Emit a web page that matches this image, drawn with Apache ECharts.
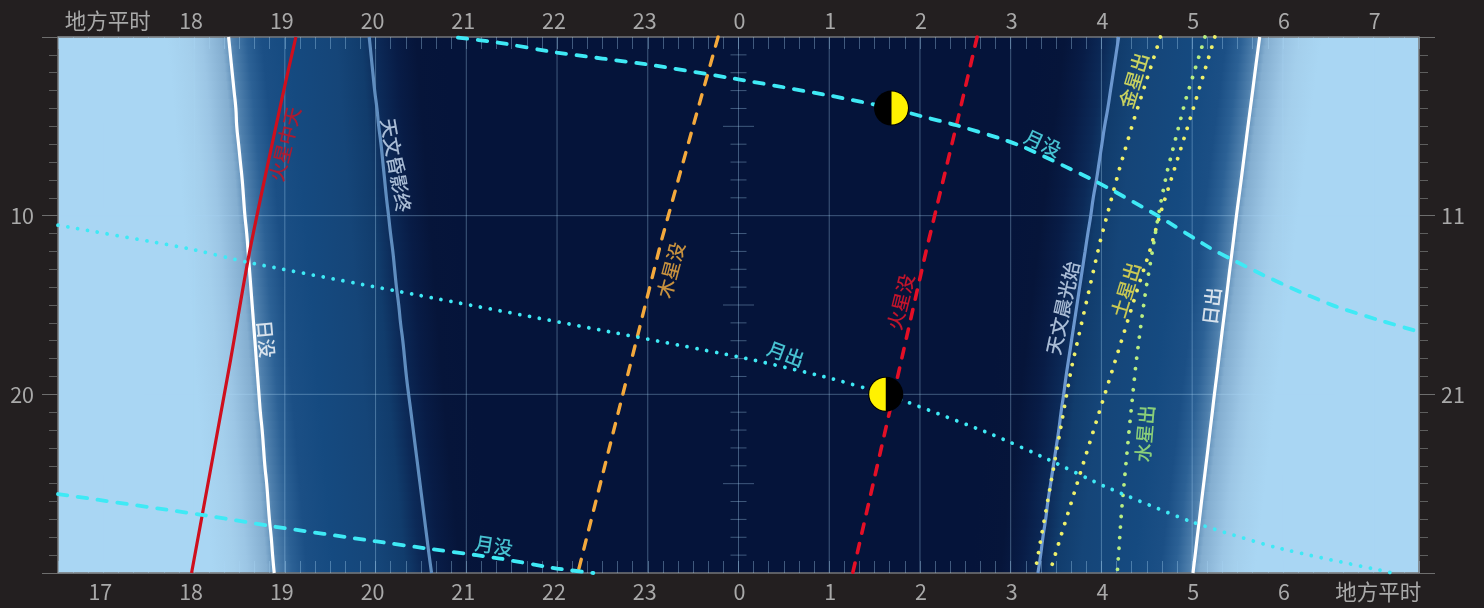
<!DOCTYPE html>
<html><head><meta charset="utf-8">
<style>html,body{margin:0;padding:0;background:#231f20}#c{width:1484px;height:608px}</style>
<script src="https://cdn.jsdelivr.net/npm/echarts@6/dist/echarts.min.js"></script>
</head><body><div id="c"></div>
<script>
const dayIndex=[0,1,2,3,4,5,6,7,8,9,10,11,12,13,14,15,16,17,18,19,20,21,22,23,24,25,26,27,28,29,30];
const sunset=[-5.62,-5.60,-5.58,-5.56,-5.54,-5.53,-5.51,-5.49,-5.47,-5.455,-5.44,-5.42,-5.405,-5.39,-5.375,-5.36,-5.345,-5.33,-5.315,-5.30,-5.285,-5.27,-5.25,-5.235,-5.22,-5.20,-5.185,-5.17,-5.15,-5.135,-5.117];
const sunrise=[5.744,5.718,5.692,5.667,5.641,5.615,5.59,5.565,5.54,5.514,5.488,5.464,5.44,5.415,5.391,5.367,5.342,5.318,5.294,5.27,5.245,5.222,5.198,5.175,5.151,5.127,5.103,5.08,5.056,5.033,5.009];
const duskEnd=[-4.07,-4.05,-4.03,-4.01,-3.985,-3.965,-3.94,-3.92,-3.90,-3.88,-3.857,-3.835,-3.81,-3.79,-3.77,-3.745,-3.725,-3.70,-3.68,-3.66,-3.636,-3.61,-3.585,-3.56,-3.535,-3.51,-3.485,-3.46,-3.435,-3.41,-3.383];
const dawnStart=[4.19,4.16,4.13,4.10,4.07,4.035,4.005,3.975,3.945,3.91,3.882,3.85,3.82,3.79,3.76,3.73,3.70,3.67,3.64,3.61,3.584,3.555,3.53,3.50,3.47,3.44,3.41,3.385,3.355,3.33,3.30];

const marsTransitH=[-4.878,-5.036,-5.385,-5.598,-6.028];
const marsTransitD=[0,3.55,11.93,18.07,30];
const jupiterSetH=[-0.225,-0.482,-0.848,-1.198,-1.771];
const jupiterSetD=[0,4.66,11.37,18.45,30];
const marsSetH=[2.63,2.402,2.07,1.796,1.259];
const marsSetD=[0,4.94,11.93,18.07,30];
const venusRiseH=[4.65,4.356,4.191,3.981,3.665,3.273,3.27];
const venusRiseD=[0,4.66,7.51,11.54,18.63,29.8,30];
const saturnRiseH=[5.25,4.973,4.76,4.65,4.525,4.414,4.275,4.136,3.786,3.438,3.42];
const saturnRiseD=[0,4.66,8.11,9.86,12.11,13.84,16.12,18.39,24.1,29.84,30];
const mercuryRiseH=[5.141,4.926,4.723,4.65,4.613,4.551,4.491,4.441,4.381,4.309,4.264,4.22,4.18,4.174];
const mercuryRiseD=[0,3.55,7.55,9.36,10.42,12.3,14.09,15.88,18.26,21.8,24.22,26.62,29.62,30];
const moonSetAH=[-3.093,-2.652,-2.002,-0.999,0,0.995,1.686,2.006,2.402,2.879,3.144,3.948,4.609,5.201,5.414,5.781,6.185,6.589,7.03,7.5];
const moonSetAD=[0.03,0.31,0.87,1.54,2.37,3.27,3.98,4.42,4.94,5.67,6.16,8.11,9.97,11.82,12.39,13.32,14.26,15.09,15.8,16.5];
const moonSetBH=[-7.5,-5.936,-5.132,-4.008,-3.402,-2.887,-2.63,-1.999,-1.6];
const moonSetBD=[25.58,26.73,27.39,28.22,28.65,29.0,29.19,29.75,30];
const moonRiseH=[-7.5,-6.083,-5.418,-3.765,0,0.995,1.623,1.844,2.802,3.419,4.036,4.981,5.932,7.185,7.22];
const moonRiseD=[10.53,11.82,12.6,14.22,17.9,19.08,19.99,20.4,22.26,23.66,25.15,27.11,28.58,29.97,30];

const moonIconH=[1.686,1.623];
const moonIconD=[3.98,19.99];
const moonLitSide=['right','left'];

const labelTexts=['火星中天','天文昏影终','日没','木星没','火星没','月出','月没','月没','天文晨光始','金星出','土星出','水星出','日出'];
const labelH=[-5.0,-3.776,-5.209,-0.746,1.788,0.521,3.353,-2.696,3.574,4.356,4.268,4.477,5.215];
const labelD=[6.0,7.18,16.9,13.04,14.83,17.74,5.95,28.46,15.17,2.43,14.16,22.2,15.06];
const labelAngles=[76,-80,-85,75,76,-20,-25,-9,78,73,73,85,83];

const hourLines=[-7,-6,-5,-4,-3,-2,-1,0,1,2,3,4,5,6,7];
const dayLines=[10,20];
const centerTicksShort=[1,2,3,4,6,7,8,9,11,12,13,14,16,17,18,19,21,22,23,24,26,27,28,29];
const centerTicksLong=[5,15,25];

const FONT='"Noto Sans CJK SC","Noto Sans",sans-serif';
const C={cyan:'#3fe9f5',orange:'#f4a93c',red:'#e40f26',transit:'#cf0f1d',white:'#ffffff',dusk:'#5f8dbf',dawn:'#6b97cf',yellow:'#eef06a',merc:'#b9ee82'};
const labelColors=[C.transit,'#d2e4f8','#ffffff','#f8b040','#f01428','#58eef8','#58eef8','#58eef8','#d2e4f8','#f6f65a','#f6e84a','#a8f078','#ffffff'];
const GRID='rgba(169,214,243,0.36)';
const zip=(a,b)=>a.map((v,i)=>[v,b[i]]);
const PX=90.75;
function bgStops(S,D,W,R,d){
  const Dd=D-(18*d/30)/PX, Wd=W+(-7+16*d/30)/PX;
  const p=[
    [S-62/PX,'#a9d6f3'],[S-40/PX,'#a4cfec'],[S-27/PX,'#9cc6e5'],[S-7/PX,'#84aed0'],[S+4/PX,'#4f80ad'],[S+18/PX,'#2c6195'],[S+33/PX,'#1b4f85'],[S+60/PX,'#154a80'],
    [Dd-33/PX,'#154578'],[Dd-8/PX,'#113c6c'],[Dd+7/PX,'#0c2a58'],[Dd+27/PX,'#081c46'],[Dd+47/PX,'#06153a'],[Dd+77/PX,'#05143a'],
    [Wd-77/PX,'#05143a'],[Wd-47/PX,'#06153a'],[Wd-27/PX,'#081c46'],[Wd-7/PX,'#0c2a58'],[Wd+8/PX,'#113c6c'],[Wd+33/PX,'#154578'],
    [R-60/PX,'#154a80'],[R-33/PX,'#1b4f85'],[R-18/PX,'#2c6195'],[R-4/PX,'#4f80ad'],[R+7/PX,'#84aed0'],[R+27/PX,'#9cc6e5'],[R+40/PX,'#a4cfec'],[R+62/PX,'#a9d6f3']];
  return p.map(s=>({offset:(s[0]+7.5)/15,color:s[1]}));
}
const chart=echarts.init(document.getElementById('c'),null,{renderer:'canvas'});
const lineS=(name,data,color,w,type,extra)=>Object.assign({name,type:'line',data,symbol:'none',silent:true,z:5,animation:false,
  lineStyle:{color,width:w,type,cap:type==='solid'?'butt':'round'}},extra||{});
const DOTP=[0.01,10.6],DOTM=[0.01,10],DASH=[9.5,10.5];
function xFmt(title){return function(v){
  if(!Number.isInteger(v))return '';
  if(v===title)return '{t|地方平时}';
  const h=(v+24)%24;
  return h>=10?'{w|'+h+'}':'{s|'+h+'}';
};}
const AX=21.5;
const rich={
  w:{fontSize:AX,fontFamily:FONT,color:'#a9a9a9',padding:[0,6,0,0]},
  s:{fontSize:AX,fontFamily:FONT,color:'#a9a9a9',padding:[0,0,0,2]},
  t:{fontSize:AX,fontFamily:FONT,color:'#a9a9a9',padding:[0,0,0,9]}
};
const tickW={show:true,inside:true,length:12,lineStyle:{color:GRID,width:1}};
const xBase=(pos,title,margin)=>({type:'value',position:pos,min:-7.5,max:7.5,interval:0.5,z:3,
  axisLine:{show:true,onZero:false,lineStyle:{color:'#777',width:1.5}},
  axisTick:tickW,minorTick:{show:true,splitNumber:3,length:12,lineStyle:{color:GRID,width:1}},
  splitLine:{show:false},minorSplitLine:{show:false},
  axisLabel:{formatter:xFmt(title),rich,margin,hideOverlap:false}});
const yBase=(pos,fmt,margin)=>({type:'value',position:pos,inverse:true,min:0,max:30,interval:10,z:3,
  axisLine:{show:true,onZero:false,lineStyle:{color:'#777',width:1.5}},
  axisTick:{show:true,length:16,lineStyle:{color:'#6e6e6e',width:1}},
  minorTick:{show:true,splitNumber:10,length:9,lineStyle:{color:'#5e5e5e',width:1}},
  splitLine:{show:false},minorSplitLine:{show:false},
  axisLabel:{formatter:fmt,margin,fontSize:AX,fontFamily:FONT,color:'#a9a9a9',padding:[0,0,2,0]}});
const halfRows=[];
dayIndex.slice(0,30).forEach(d=>{halfRows.push([d]);halfRows.push([d+0.5]);});
const at=(arr,d)=>{const i=Math.floor(d),f=d-i;return i>=30?arr[30]:arr[i]*(1-f)+arr[i+1]*f;};
const LABEL_W=500;
const option={
  backgroundColor:'#231f20',animation:false,
  grid:{left:58,right:65,top:37,bottom:35,containLabel:false},
  xAxis:[xBase('bottom',7,8),xBase('top',-7,5)],
  yAxis:[yBase('left',v=>(v===10||v===20)?String(v):'',24),yBase('right',v=>(v===10||v===20)?String(v+1):'',22)],
  series:[
    {type:'custom',z:1,silent:true,animation:false,data:halfRows,
     renderItem(p,api){
       const d=api.value(0),m=d+0.25;
       const a=api.coord([-7.5,d]),b=api.coord([7.5,d+0.5]);
       return {type:'rect',shape:{x:a[0],y:a[1]-0.5,width:b[0]-a[0],height:b[1]-a[1]+1},
         style:{fill:{type:'linear',x:0,y:0,x2:1,y2:0,global:false,colorStops:bgStops(at(sunset,m),at(duskEnd,m),at(dawnStart,m),at(sunrise,m),m)}}};
     }},
    {type:'custom',z:2,silent:true,animation:false,data:hourLines.map(h=>[h]),
     renderItem(p,api){const t=api.coord([api.value(0),0]),b=api.coord([api.value(0),30]);
       return {type:'line',shape:{x1:t[0],y1:t[1],x2:b[0],y2:b[1]},style:{stroke:GRID,lineWidth:1}};}},
    {type:'custom',z:2,silent:true,animation:false,data:dayLines.map(d=>[d]),
     renderItem(p,api){const t=api.coord([-7.5,api.value(0)]),b=api.coord([7.5,api.value(0)]);
       return {type:'line',shape:{x1:t[0],y1:t[1],x2:b[0],y2:b[1]},style:{stroke:GRID,lineWidth:1}};}},
    {type:'custom',z:2,silent:true,animation:false,data:centerTicksShort.map(d=>[d,8]).concat(centerTicksLong.map(d=>[d,15.5])),
     renderItem(p,api){const c=api.coord([0,api.value(0)]),l=api.value(1);
       return {type:'line',shape:{x1:c[0]-l,y1:c[1],x2:c[0]+l,y2:c[1]},style:{stroke:GRID,lineWidth:1}};}},
    lineS('日没',zip(sunset,dayIndex),C.white,3.2,'solid',{smooth:0.6}),
    lineS('日出',zip(sunrise,dayIndex),C.white,3.2,'solid',{smooth:0.6}),
    lineS('天文昏影终',zip(duskEnd,dayIndex),C.dusk,3.2,'solid',{smooth:0.6}),
    lineS('天文晨光始',zip(dawnStart,dayIndex),C.dawn,3.2,'solid',{smooth:0.6}),
    lineS('火星中天',zip(marsTransitH,marsTransitD),C.transit,3.2,'solid',{smooth:0.3}),
    lineS('木星没',zip(jupiterSetH,jupiterSetD),C.orange,3.4,DASH),
    lineS('火星没',zip(marsSetH,marsSetD),C.red,3.6,DASH),
    lineS('金星出',zip(venusRiseH,venusRiseD),C.yellow,3.8,DOTP),
    lineS('土星出',zip(saturnRiseH,saturnRiseD),C.yellow,3.8,DOTP),
    lineS('水星出',zip(mercuryRiseH,mercuryRiseD),C.merc,3.8,DOTP),
    lineS('月没',zip(moonSetAH,moonSetAD),C.cyan,3.8,DASH,{smooth:0.2}),
    lineS('月没',zip(moonSetBH,moonSetBD),C.cyan,3.8,DASH,{smooth:0.2}),
    lineS('月出',zip(moonRiseH,moonRiseD),C.cyan,3.8,DOTM,{smooth:0.2}),
    {type:'custom',z:6,silent:true,animation:false,data:moonIconH.map((h,i)=>[h,moonIconD[i],i]),
     renderItem(p,api){
       const c=api.coord([api.value(0),api.value(1)]);
       const right=moonLitSide[api.value(2)]==='right';
       return {type:'group',children:[
         {type:'circle',shape:{cx:c[0],cy:c[1],r:17.5},style:{fill:'#000'}},
         {type:'sector',shape:{cx:c[0],cy:c[1],r:16.5,r0:0,startAngle:right?-Math.PI/2:Math.PI/2,endAngle:right?Math.PI/2:Math.PI*1.5,clockwise:true},style:{fill:'#fff200'}}
       ]};
     }},
    {type:'scatter',z:7,silent:true,animation:false,symbolSize:0,
     data:labelTexts.map((t,i)=>({value:[labelH[i],labelD[i]],name:t,
       label:{show:true,position:'inside',formatter:t,rotate:labelAngles[i],color:labelColors[i],fontSize:19,fontWeight:LABEL_W,fontFamily:FONT,align:'center',verticalAlign:'middle'}}))}
  ]
};
chart.setOption(option);
</script></body></html>
